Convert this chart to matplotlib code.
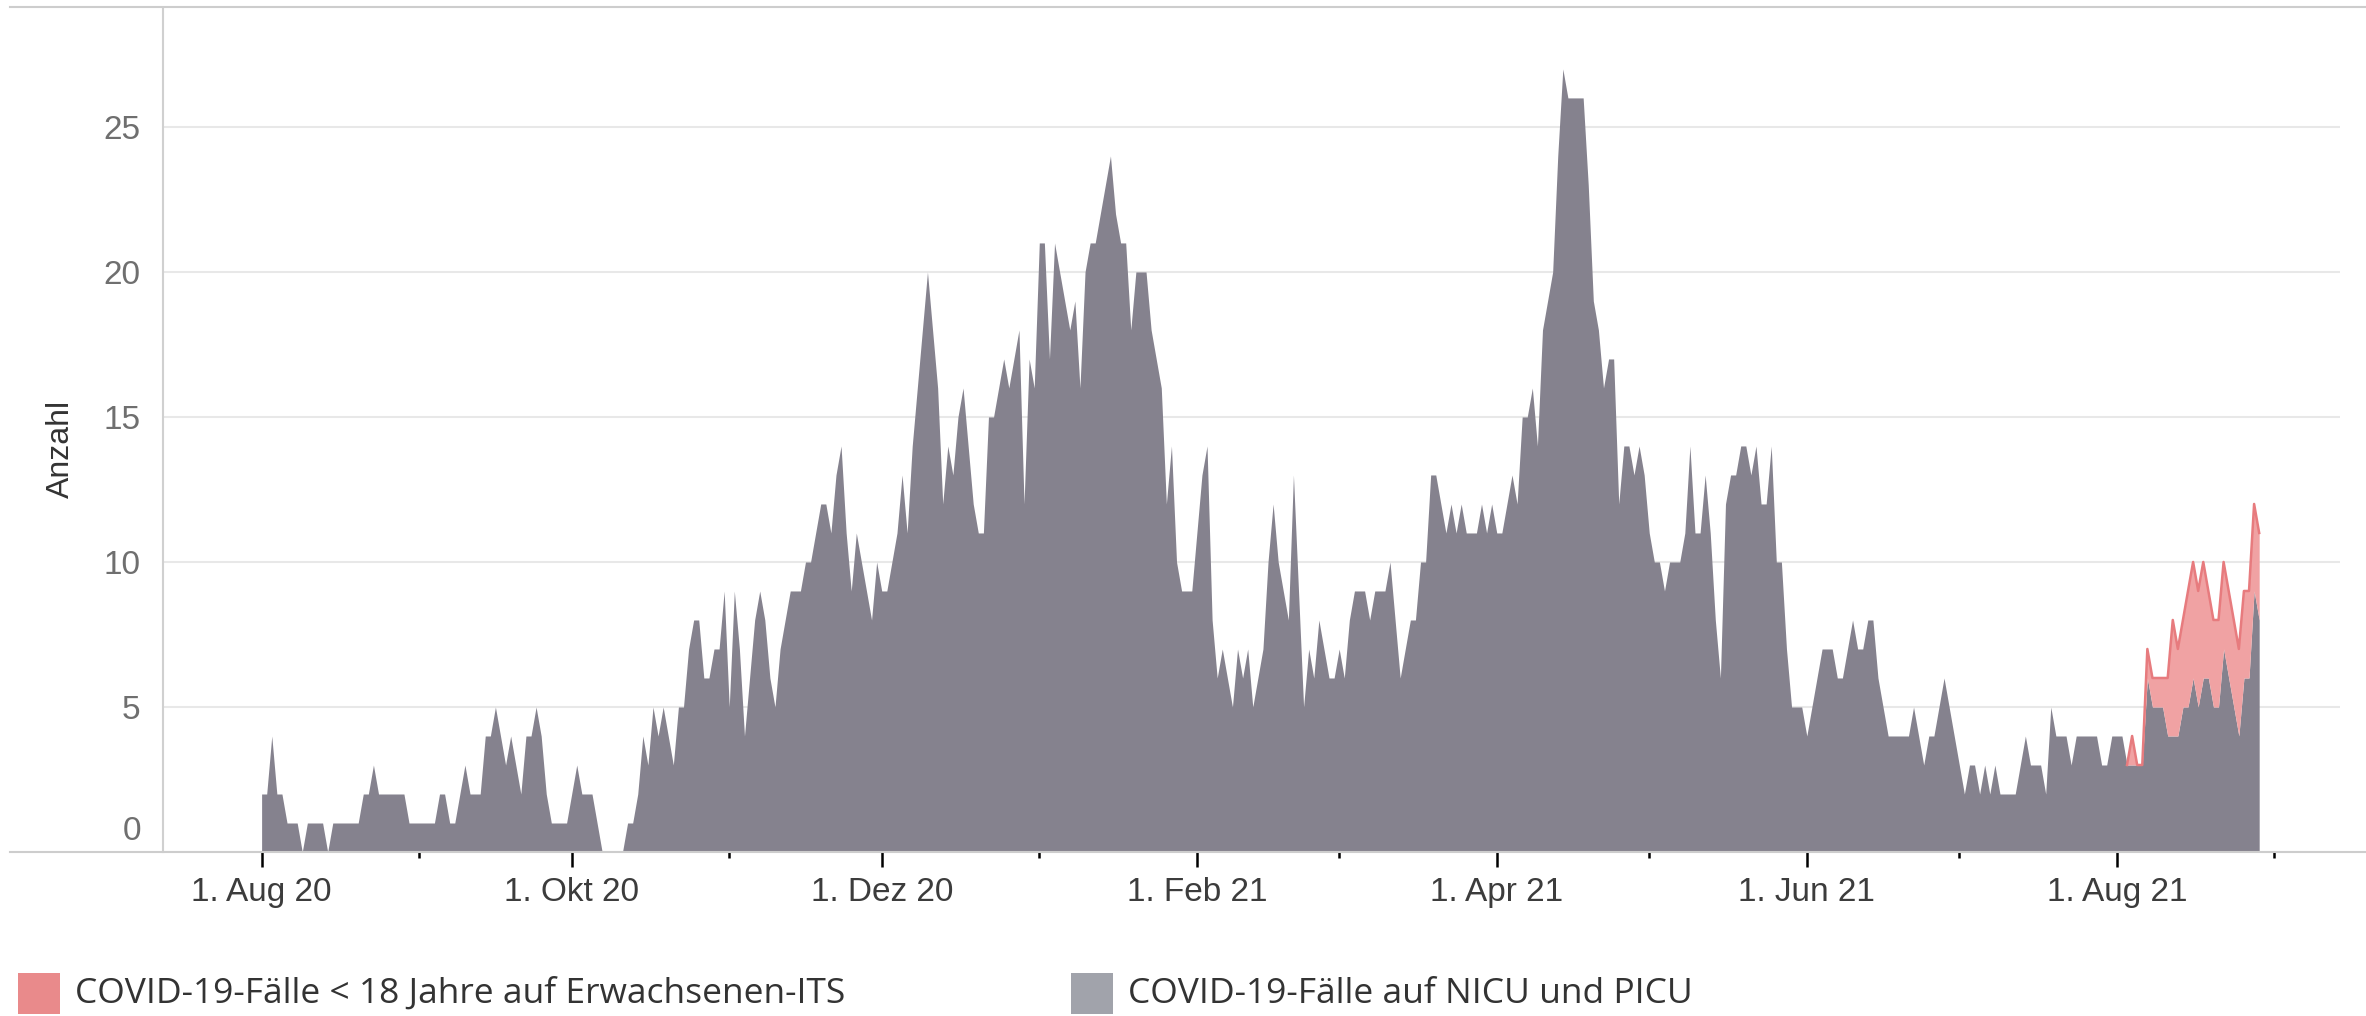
import matplotlib
matplotlib.use("Agg")
import matplotlib.pyplot as plt
import numpy as np
import pandas as pd
from matplotlib.lines import Line2D
from matplotlib.patches import Rectangle
from matplotlib.transforms import ScaledTranslation

# daily COVID-19 cases on NICU and PICU, starting 1 Aug 2020
nicu_start = "2020-08-01"
nicu_picu = [
    2, 2, 4, 2, 2, 1, 1, 1, 0, 1,
    1, 1, 1, 0, 1, 1, 1, 1, 1, 1,
    2, 2, 3, 2, 2, 2, 2, 2, 2, 1,
    1, 1, 1, 1, 1, 2, 2, 1, 1, 2,
    3, 2, 2, 2, 4, 4, 5, 4, 3, 4,
    3, 2, 4, 4, 5, 4, 2, 1, 1, 1,
    1, 2, 3, 2, 2, 2, 1, 0, 0, 0,
    0, 0, 1, 1, 2, 4, 3, 5, 4, 5,
    4, 3, 5, 5, 7, 8, 8, 6, 6, 7,
    7, 9, 5, 9, 7, 4, 6, 8, 9, 8,
    6, 5, 7, 8, 9, 9, 9, 10, 10, 11,
    12, 12, 11, 13, 14, 11, 9, 11, 10, 9,
    8, 10, 9, 9, 10, 11, 13, 11, 14, 16,
    18, 20, 18, 16, 12, 14, 13, 15, 16, 14,
    12, 11, 11, 15, 15, 16, 17, 16, 17, 18,
    12, 17, 16, 21, 21, 17, 21, 20, 19, 18,
    19, 16, 20, 21, 21, 22, 23, 24, 22, 21,
    21, 18, 20, 20, 20, 18, 17, 16, 12, 14,
    10, 9, 9, 9, 11, 13, 14, 8, 6, 7,
    6, 5, 7, 6, 7, 5, 6, 7, 10, 12,
    10, 9, 8, 13, 9, 5, 7, 6, 8, 7,
    6, 6, 7, 6, 8, 9, 9, 9, 8, 9,
    9, 9, 10, 8, 6, 7, 8, 8, 10, 10,
    13, 13, 12, 11, 12, 11, 12, 11, 11, 11,
    12, 11, 12, 11, 11, 12, 13, 12, 15, 15,
    16, 14, 18, 19, 20, 24, 27, 26, 26, 26,
    26, 23, 19, 18, 16, 17, 17, 12, 14, 14,
    13, 14, 13, 11, 10, 10, 9, 10, 10, 10,
    11, 14, 11, 11, 13, 11, 8, 6, 12, 13,
    13, 14, 14, 13, 14, 12, 12, 14, 10, 10,
    7, 5, 5, 5, 4, 5, 6, 7, 7, 7,
    6, 6, 7, 8, 7, 7, 8, 8, 6, 5,
    4, 4, 4, 4, 4, 5, 4, 3, 4, 4,
    5, 6, 5, 4, 3, 2, 3, 3, 2, 3,
    2, 3, 2, 2, 2, 2, 3, 4, 3, 3,
    3, 2, 5, 4, 4, 4, 3, 4, 4, 4,
    4, 4, 3, 3, 4, 4, 4, 3, 3, 3,
    3, 6, 5, 5, 5, 4, 4, 4, 5, 5,
    6, 5, 6, 6, 5, 5, 7, 6, 5, 4,
    6, 6, 9, 8,
]

# daily COVID-19 cases < 18 years on adult ICUs, stacked on top
adult_start = "2021-08-03"
adult_its = [
    0, 1, 0, 0, 1, 1, 1, 1, 2, 4,
    3, 3, 4, 4, 4, 4, 3, 3, 3, 3,
    3, 3, 3, 3, 3, 3, 3,
]

major_ticks = ["2020-08-01", "2020-10-01", "2020-12-01", "2021-02-01",
               "2021-04-01", "2021-06-01", "2021-08-01"]
major_labels = ["1. Aug 20", "1. Okt 20", "1. Dez 20", "1. Feb 21",
                "1. Apr 21", "1. Jun 21", "1. Aug 21"]
minor_ticks = ["2020-09-01", "2020-11-01", "2021-01-01", "2021-03-01",
               "2021-05-01", "2021-07-01", "2021-09-01"]
y_ticks = [0, 5, 10, 15, 20, 25]

legend_labels = ["COVID-19-Fälle < 18 Jahre auf Erwachsenen-ITS",
                 "COVID-19-Fälle auf NICU und PICU"]

GREY = "#85828e"
RED_FILL = "#f0a2a3"
RED_LINE = "#e77b7e"
FONT = ["Liberation Sans", "DejaVu Sans"]

# align both series on one daily index
nicu = pd.Series(nicu_picu, index=pd.date_range(nicu_start, periods=len(nicu_picu)))
adult = pd.Series(adult_its, index=pd.date_range(adult_start, periods=len(adult_its)))
adult = adult.reindex(nicu.index, fill_value=0)
total = nicu + adult

W, H = 2366, 1016
fig = plt.figure(figsize=(W / 100, H / 100), dpi=100)
ax = fig.add_axes([163 / W, 1 - 852 / H, (2340 - 163) / W, (852 - 8) / H])

ax.fill_between(nicu.index, 0, nicu.values, color=GREY, lw=0, zorder=2)
ax.fill_between(nicu.index, nicu.values, total.values, color=RED_FILL, lw=0, zorder=2)
red_part = total[total.index >= pd.Timestamp(adult_start)]
ax.plot(red_part.index, red_part.values, color=RED_LINE, lw=1.8, zorder=3)

ax.set_ylim(0, 29.1)
ax.set_xlim(pd.Timestamp(nicu_start) - pd.Timedelta(days=19.4),
            pd.Timestamp(nicu_start) + pd.Timedelta(days=408.9))

ax.set_yticks(y_ticks)
ax.set_yticklabels([str(v) for v in y_ticks], fontsize=24, color="#6f6f6f",
                   family=FONT)
ax.tick_params(axis="y", length=0, pad=16)
# Tableau lifts the "0" label above the baseline
zero_label = ax.yaxis.get_major_ticks()[0].label1
zero_label.set_transform(zero_label.get_transform()
                         + ScaledTranslation(0, 0.24, fig.dpi_scale_trans))
ax.grid(axis="y", color="#e8e8e8", lw=1.5, zorder=0)

ax.set_xticks(pd.to_datetime(major_ticks))
ax.set_xticklabels(major_labels, fontsize=24, color="#3c3c3c", family=FONT)
ax.set_xticks(pd.to_datetime(minor_ticks), minor=True)
ax.tick_params(axis="x", which="major", length=11, width=1.8, color="black",
               pad=7, direction="out")
ax.tick_params(axis="x", which="minor", length=4, width=1.8, color="black",
               direction="out")

ax.set_ylabel("Anzahl", fontsize=23, color="#333333", family=FONT)
ax.yaxis.set_label_coords(-0.040, 0.478)

for side in ["top", "right", "bottom"]:
    ax.spines[side].set_visible(False)
ax.spines["left"].set_color("#d0d0d0")
ax.spines["left"].set_linewidth(1.5)

# frame lines that run across the full width
for y in [1 - 7 / H, 1 - 852 / H]:
    fig.add_artist(Line2D([10 / W, 1], [y, y], color="#cdcdcd", lw=1.5))

# legend
swatches = [("#e98a8b", 18, legend_labels[0]), ("#a1a3ab", 1071, legend_labels[1])]
for color, x0, text in swatches:
    fig.add_artist(Rectangle((x0 / W, 1 - 1014 / H), 42 / W, 41 / H,
                             transform=fig.transFigure, color=color, lw=0))
    fig.text((x0 + 57) / W, 1 - 994 / H, text, fontsize=25.5, color="#333333",
             family=["Open Sans", "DejaVu Sans"], va="center", ha="left")

fig.savefig("out.png", dpi=100)
